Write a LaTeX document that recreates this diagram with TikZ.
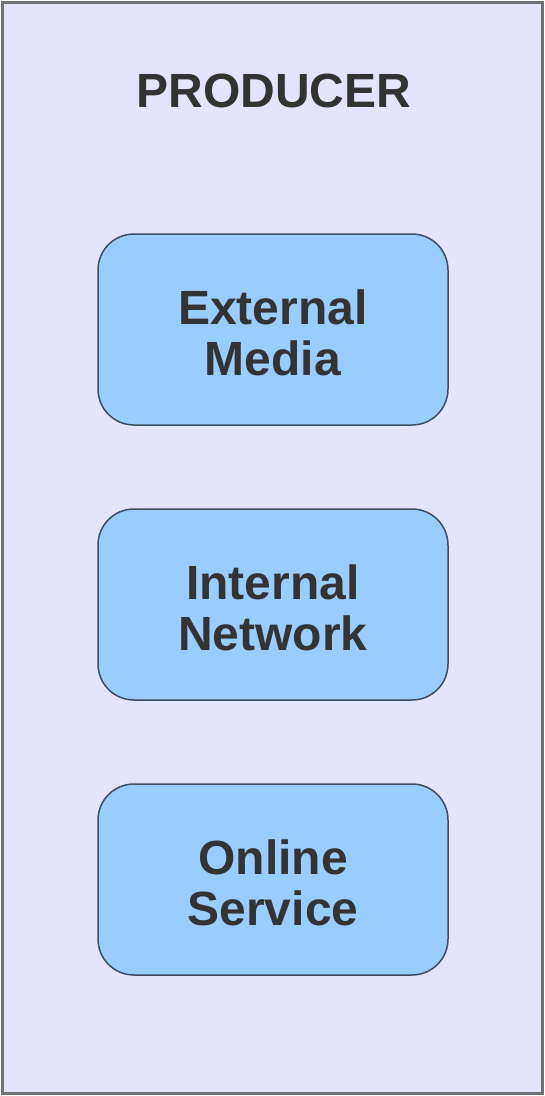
\documentclass[tikz,border=0pt]{standalone}
\usepackage{fontspec}
\setmainfont{Liberation Sans}
\begin{document}
\begin{tikzpicture}[x=1pt,y=-1pt,
  lbl/.style={font=\fontsize{48}{51}\selectfont\bfseries, text=txtc, align=center},
  srcbox/.style={draw=boxline, line width=1.5pt, fill=boxfill, rounded corners=36pt, minimum width=350pt, minimum height=191pt, inner sep=0pt}]
\definecolor{bgc}{HTML}{E4E4FC}
\definecolor{framec}{HTML}{707078}
\definecolor{boxfill}{HTML}{99CCFF}
\definecolor{boxline}{HTML}{3E4E60}
\definecolor{txtc}{HTML}{333333}
\useasboundingbox (0,0) rectangle (545,1096);
\fill[white] (0,0) rectangle (545,1096);
\draw[framec, fill=bgc, line width=3pt] (2.5,2.5) rectangle (542.5,1093);
\node[lbl] (title) at (274,91) {PRODUCER};
\node[srcbox] (b1) at (273,329.5) {};
\node[srcbox] (b2) at (273,604.5) {};
\node[srcbox] (b3) at (273,879.5) {};
\node[lbl] (t1) at ([yshift=-3pt]b1.center) {External\\Media};
\node[lbl] (t2) at ([yshift=-3pt]b2.center) {Internal\\Network};
\node[lbl] (t3) at ([yshift=-3pt]b3.center) {Online\\Service};
\end{tikzpicture}
\end{document}
